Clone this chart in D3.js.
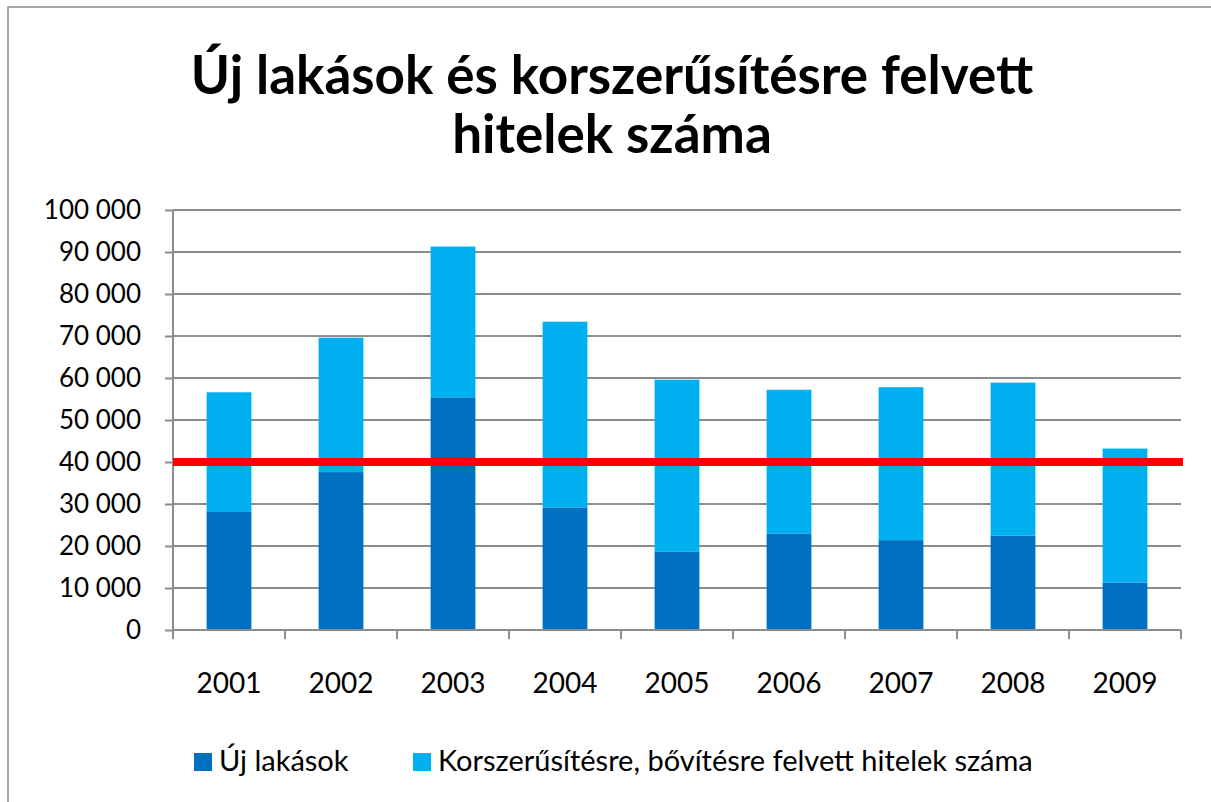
<!DOCTYPE html>
<html lang="hu">
<head>
<meta charset="UTF-8">
<title>Új lakások és korszerűsítésre felvett hitelek száma</title>
<script src="https://cdn.jsdelivr.net/npm/d3@7"></script>
<style>
  body { margin: 0; background: #fff; }
  svg { display: block; }
  text { font-family: Lato, "Noto Sans", sans-serif; fill: #000; }
</style>
</head>
<body>
<svg width="1211" height="802"></svg>
<script>
// data
const years = ['2001', '2002', '2003', '2004', '2005', '2006', '2007', '2008', '2009'];
const newHomes = [28100, 37600, 55400, 29200, 18600, 23000, 21400, 22500, 11300];
const renovation = [28500, 32000, 35900, 44200, 41000, 34200, 36400, 36400, 31900];
const yTicks = [0, 10000, 20000, 30000, 40000, 50000, 60000, 70000, 80000, 90000, 100000];
const threshold = 40000;
const seriesNames = ['Új lakások', 'Korszerűsítésre, bővítésre felvett hitelek száma'];
const titleLines = ['Új lakások és korszerűsítésre felvett', 'hitelek száma'];

const colors = ['#0070C0', '#00B0F0'];
const plot = { left: 173, right: 1181, top: 210, bottom: 630 };

const svg = d3.select('svg');

// chart frame
svg.append('rect')
  .attr('x', 8).attr('y', 7)
  .attr('width', 1230).attr('height', 820)
  .attr('fill', 'none').attr('stroke', '#8a8a8a').attr('stroke-width', 1.5);

// title
svg.append('text')
  .attr('text-anchor', 'middle')
  .attr('font-weight', 'bold')
  .attr('font-size', 53)
  .selectAll('tspan')
  .data(titleLines)
  .join('tspan')
  .attr('x', 612)
  .attr('y', (d, i) => 94 + i * 59)
  .text(d => d);

const x = d3.scaleBand()
  .domain(years)
  .range([plot.left, plot.right])
  .paddingInner(0.6)
  .paddingOuter(0.3);

const y = d3.scaleLinear()
  .domain([0, 100000])
  .range([plot.bottom, plot.top]);

const fmt = d3.formatLocale({ decimal: ',', thousands: ' ', grouping: [3], currency: ['', ''] }).format(',d');

// gridlines
svg.append('g')
  .selectAll('line')
  .data(yTicks)
  .join('line')
  .attr('x1', plot.left).attr('x2', plot.right)
  .attr('y1', d => y(d)).attr('y2', d => y(d))
  .attr('stroke', '#8c8c8c').attr('stroke-width', 2);

// stacked bars
const rows = years.map((yr, i) => ({ year: yr, a: newHomes[i], b: renovation[i] }));
const stack = d3.stack().keys(['a', 'b'])(rows);

svg.append('g')
  .selectAll('g')
  .data(stack)
  .join('g')
  .attr('fill', (d, i) => colors[i])
  .selectAll('rect')
  .data(d => d)
  .join('rect')
  .attr('x', d => x(d.data.year))
  .attr('width', x.bandwidth())
  .attr('y', d => y(d[1]))
  .attr('height', d => y(d[0]) - y(d[1]));

// y axis
const yAxis = svg.append('g')
  .attr('transform', `translate(${plot.left},0)`)
  .call(d3.axisLeft(y).tickValues(yTicks).tickFormat(fmt).tickSize(8).tickPadding(24));
yAxis.selectAll('line, path').attr('stroke', '#8c8c8c').attr('stroke-width', 2);
yAxis.select('.domain').attr('d', `M0,${plot.top}V${plot.bottom}`);
yAxis.selectAll('text').attr('font-size', 26).attr('font-family', null);

// x axis
const xAxis = svg.append('g')
  .attr('transform', `translate(0,${plot.bottom})`)
  .call(d3.axisBottom(x).tickSize(0).tickPadding(43));
xAxis.select('.domain').attr('d', `M${plot.left},0H${plot.right}`)
  .attr('stroke', '#8c8c8c').attr('stroke-width', 2);
xAxis.selectAll('text').attr('font-size', 28).attr('font-family', null);

// category boundary ticks
const bounds = years.map(d => x(d) - x.step() * x.paddingInner() / 2);
bounds[0] = plot.left;
bounds.push(plot.right);
xAxis.selectAll('.bound')
  .data(bounds)
  .join('line')
  .attr('class', 'bound')
  .attr('x1', d => d).attr('x2', d => d)
  .attr('y1', 0).attr('y2', 9)
  .attr('stroke', '#8c8c8c').attr('stroke-width', 2);

// 40 000 reference line
svg.append('line')
  .attr('x1', plot.left).attr('x2', plot.right + 2)
  .attr('y1', y(threshold)).attr('y2', y(threshold))
  .attr('stroke', '#ff0000').attr('stroke-width', 8);

// legend
const legendX = [194, 413];
const legend = svg.append('g')
  .selectAll('g')
  .data(seriesNames)
  .join('g')
  .attr('transform', (d, i) => `translate(${legendX[i]},753)`);
legend.append('rect')
  .attr('width', 18).attr('height', 18)
  .attr('fill', (d, i) => colors[i]);
legend.append('text')
  .attr('x', 25).attr('y', 18)
  .attr('font-size', 29)
  .text(d => d);
</script>
</body>
</html>
